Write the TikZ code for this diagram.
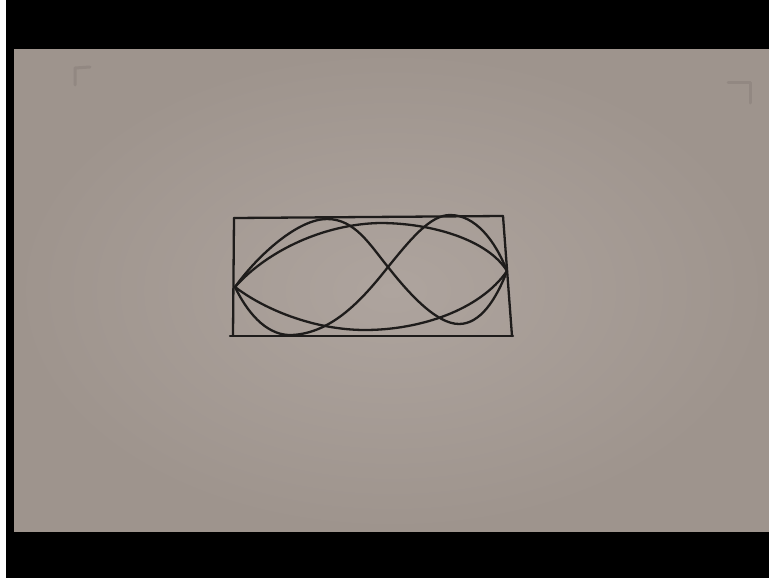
\documentclass[tikz,border=0pt]{standalone}
\definecolor{paper}{RGB}{158,148,141}
\definecolor{paperlight}{RGB}{174,164,158}
\definecolor{ink}{RGB}{30,28,27}
\definecolor{faint}{RGB}{146,136,130}
\begin{document}
\begin{tikzpicture}[x=1pt,y=-1pt,
  pen/.style={draw=ink,line width=2.3pt,line cap=round,line join=round},
  faintline/.style={draw=faint,line width=3pt,line cap=round,line join=round}]
\useasboundingbox (0,0) rectangle (769,578);
\fill[white] (0,0) rectangle (769,578);
\fill[black] (6,0) rectangle (769,578);
\shade[inner color=paperlight,outer color=paper] (14,50) rectangle (769,531);
% faint corner marks
\draw[faintline] (75,85) -- (75,68) -- (90,67);
\draw[faintline] (728,83) -- (750,83) -- (750,103);
% frame
\coordinate (tl) at (234,218);
\coordinate (tr) at (503,216);
\coordinate (bl) at (233,335);
\coordinate (br) at (513,336);
\coordinate (L) at (235,287);
\coordinate (R) at (507,271);
\draw[pen] (tl) -- (tr);
\draw[pen] (230,336) -- (br);
\draw[pen] (tl) -- (bl);
\draw[pen] (tr) -- (512,336);
% upper lens
\draw[pen] (L) .. controls (268,250) and (325,224) .. (380,223)
  .. controls (432,223) and (488,240) .. (R);
% lower lens
\draw[pen] (L) .. controls (268,312) and (318,330) .. (365,330)
  .. controls (420,330) and (480,310) .. (R);
% S-curve 1
\draw[pen] (L) .. controls (258,255) and (298,219) .. (327,219)
  .. controls (355,219) and (370,245) .. (388,267)
  .. controls (410,295) and (437,324) .. (459,324)
  .. controls (480,324) and (496,300) .. (R);
% S-curve 2
\draw[pen] (L) .. controls (250,318) and (270,336) .. (292,335)
  .. controls (332,333) and (362,300) .. (388,267)
  .. controls (410,240) and (430,215) .. (450,215)
  .. controls (475,215) and (495,240) .. (R);
\end{tikzpicture}
\end{document}
